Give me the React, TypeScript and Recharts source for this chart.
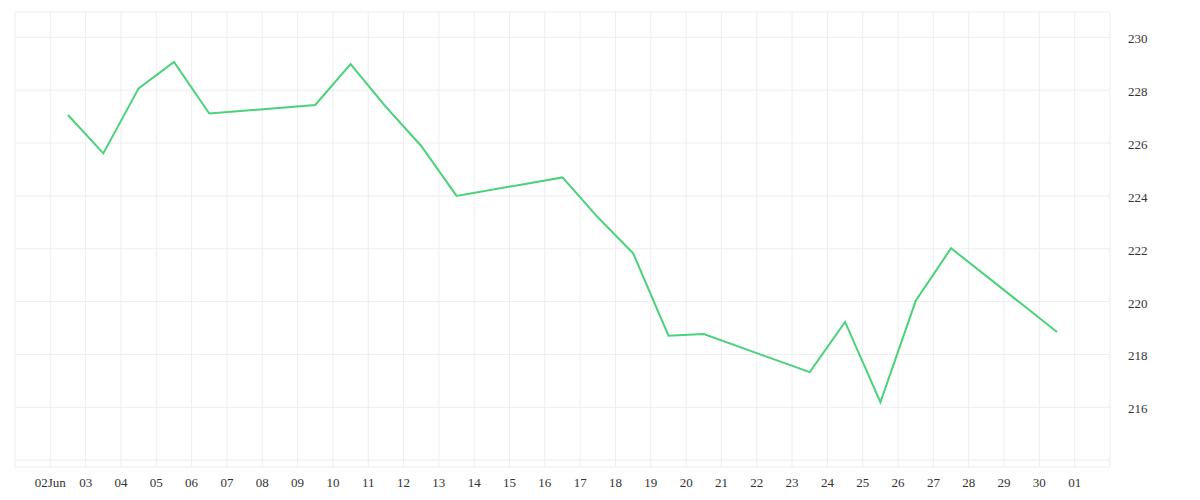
import { LineChart, Line, XAxis, YAxis, CartesianGrid } from "recharts"

// trading days, placed on a day-of-June axis (31 = 01 Jul)
const days = [2.5, 3.5, 4.5, 5.5, 6.5, 9.5, 10.5, 11.5, 12.5, 13.5, 16.5, 17.5, 18.5, 19.5, 20.5, 23.5, 24.5, 25.5, 26.5, 27.5, 30.5]
const prices = [227.06, 225.61, 228.07, 229.07, 227.12, 227.44, 228.99, 227.37, 225.89, 224.0, 224.7, 223.19, 221.83, 218.71, 218.77, 217.33, 219.23, 216.19, 220.03, 222.02, 218.85]

const xTicks = [1, 2, 3, 4, 5, 6, 7, 8, 9, 10, 11, 12, 13, 14, 15, 16, 17, 18, 19, 20, 21, 22, 23, 24, 25, 26, 27, 28, 29, 30, 31, 32]
const xTickLabels = ["", "02Jun", "03", "04", "05", "06", "07", "08", "09", "10", "11", "12", "13", "14", "15", "16", "17", "18", "19", "20", "21", "22", "23", "24", "25", "26", "27", "28", "29", "30", "01", ""]
const yTicks = [214, 216, 218, 220, 222, 224, 226, 228, 230]
const yTickLabels = ["", "216", "218", "220", "222", "224", "226", "228", "230"]

const data = days.map((d, i) => ({ day: d, price: prices[i] }))

const YTick = (props: any) => {
  const { x, y, payload } = props
  const label = yTickLabels[yTicks.indexOf(payload.value)]
  if (!label) return null
  return (
    <text x={x} y={y + 6} textAnchor="start" fill="#333" fontSize={13}>
      {label}
    </text>
  )
}

const XTick = (props: any) => {
  const { x, y, payload } = props
  const label = xTickLabels[xTicks.indexOf(payload.value)]
  if (!label) return null
  return (
    <text x={x} y={y + 20} textAnchor="middle" fill="#333" fontSize={13}>
      {label}
    </text>
  )
}

export default function App() {
  return (
    <div style={{ position: "absolute", left: 0, top: 0, width: 1200, height: 500, background: "#fff" }}>
      <LineChart width={1200} height={500} data={data} margin={{ top: 12, right: 0, bottom: 0, left: 15 }}>
        <CartesianGrid stroke="#eeeeee" />
        <XAxis
          dataKey="day"
          type="number"
          domain={[1, 32]}
          ticks={xTicks}
          allowDataOverflow
          height={33}
          axisLine={false}
          tickLine={false}
          tickSize={0}
          tickMargin={0}
          interval={0}
          tick={<XTick />}
        />
        <YAxis
          orientation="right"
          type="number"
          domain={[213.74, 230.96]}
          ticks={yTicks}
          allowDataOverflow
          width={90}
          axisLine={false}
          tickLine={false}
          tickSize={0}
          tickMargin={18}
          interval={0}
          tick={<YTick />}
        />
        <Line
          type="linear"
          dataKey="price"
          stroke="#4ad27a"
          strokeWidth={2}
          dot={false}
          activeDot={false}
          isAnimationActive={false}
        />
      </LineChart>
    </div>
  )
}
